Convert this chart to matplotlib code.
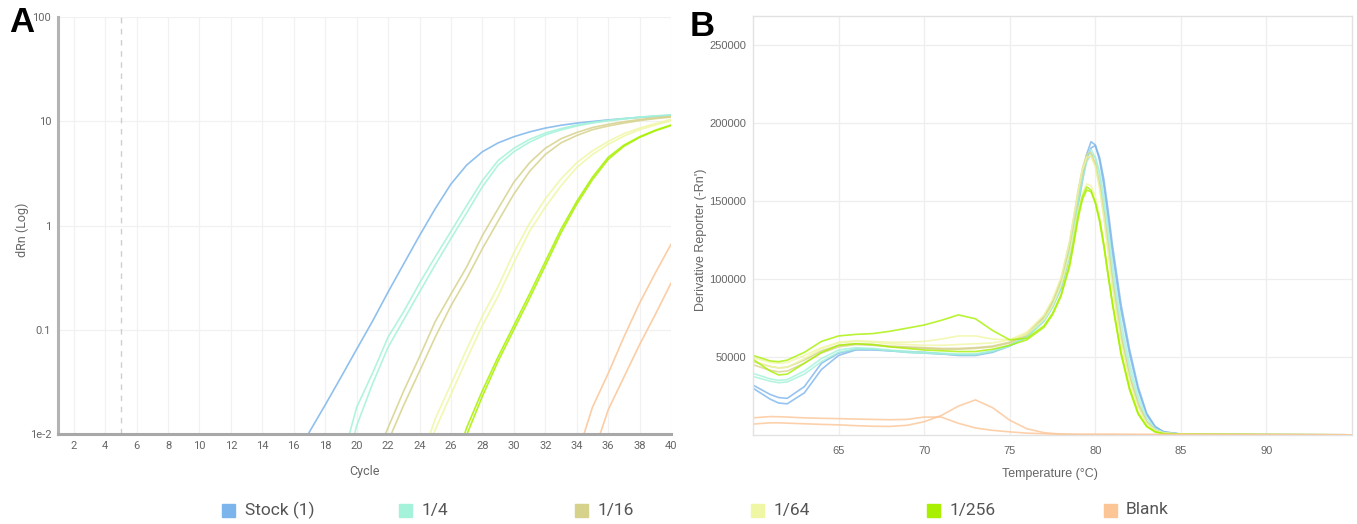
import numpy as np
import matplotlib
matplotlib.use("Agg")
import matplotlib.pyplot as plt
from matplotlib.patches import Rectangle

# ---------------- data ----------------
series_names = ["Stock (1)", "1/4", "1/16", "1/64", "1/256", "Blank"]
series_colors = ["#7cb5ec", "#a4f2da", "#d6d28c", "#f0f7a4", "#a8f000", "#fcc596"]

# Amplification plot: (first cycle, dRn per cycle up to cycle 40)
amp_stock = (16, [0.0055, 0.0105, 0.019, 0.035, 0.065, 0.12, 0.23, 0.43, 0.8, 1.45,
                  2.5, 3.8, 5.1, 6.2, 7.1, 7.9, 8.6, 9.15, 9.6, 9.95, 10.3, 10.6,
                  10.9, 11.15, 11.4])
amp_1_4_a = (19, [0.005, 0.018, 0.038, 0.085, 0.15, 0.28, 0.5, 0.88, 1.55, 2.7, 4.2,
                  5.5, 6.7, 7.7, 8.5, 9.2, 9.75, 10.2, 10.6, 10.95, 11.25, 11.5])
amp_1_4_b = (19, [0.003, 0.012, 0.03, 0.068, 0.125, 0.23, 0.42, 0.75, 1.32, 2.35,
                  3.8, 5.1, 6.3, 7.4, 8.25, 9.0, 9.6, 10.1, 10.5, 10.9, 11.2, 11.45])
amp_1_16_a = (21, [0.005, 0.0115, 0.026, 0.055, 0.12, 0.22, 0.4, 0.8, 1.45, 2.6, 4.0,
                   5.5, 6.8, 7.8, 8.7, 9.35, 9.9, 10.4, 10.8, 11.1])
amp_1_16_b = (21, [0.003, 0.0085, 0.019, 0.04, 0.085, 0.17, 0.31, 0.6, 1.1, 2.0, 3.3,
                   4.8, 6.2, 7.3, 8.3, 9.0, 9.6, 10.15, 10.6, 10.95])
amp_1_64_a = (24, [0.005, 0.014, 0.03, 0.065, 0.135, 0.26, 0.55, 1.05, 1.8, 2.8, 4.0,
                   5.2, 6.4, 7.6, 8.6, 9.5, 10.4])
amp_1_64_b = (24, [0.004, 0.011, 0.024, 0.052, 0.11, 0.21, 0.44, 0.88, 1.5, 2.4, 3.6,
                   4.8, 6.0, 7.2, 8.3, 9.2, 10.1])
amp_1_256_a = (26, [0.004, 0.0115, 0.026, 0.055, 0.11, 0.22, 0.45, 0.92, 1.7, 2.9,
                    4.5, 5.9, 7.1, 8.2, 9.2])
amp_1_256_b = (26, [0.0035, 0.0098, 0.023, 0.05, 0.1, 0.2, 0.41, 0.85, 1.6, 2.75,
                    4.3, 5.75, 7.0, 8.1, 9.1])
amp_blank_a = (34, [0.006, 0.018, 0.038, 0.085, 0.18, 0.35, 0.66])
amp_blank_b = (35, [0.006, 0.017, 0.035, 0.072, 0.14, 0.28])

amp_groups = [[amp_stock], [amp_1_4_a, amp_1_4_b], [amp_1_16_a, amp_1_16_b],
              [amp_1_64_a, amp_1_64_b], [amp_1_256_a, amp_1_256_b],
              [amp_blank_a, amp_blank_b]]
threshold_cycle = 5

# Melt curve: temperature grid and derivative reporter values (thousands)
melt_temp = [60, 61, 61.5, 62, 63, 64, 65, 66, 67, 68, 69, 70, 71, 72, 73, 74, 75, 76,
             77, 77.5, 78, 78.5, 78.75, 79, 79.25, 79.5, 79.75, 80, 80.25, 80.5, 80.75,
             81, 81.5, 82, 82.5, 83, 83.5, 84, 85, 87, 90, 95]

melt_stock_a = [32, 26, 24, 23.5, 31, 46, 52.5, 55, 55, 54, 53.5, 53, 52, 51.5, 51.5,
                53.5, 57.5, 63, 74, 83, 96, 118, 133, 150, 166, 180, 188, 186, 176, 160,
                139, 117, 80, 52, 29, 13, 5, 2, 0.6, 0.3, 0.2, 0.1]
melt_stock_b = [30, 23, 20.5, 20, 27, 42, 51, 54.5, 54.5, 54, 53, 52.5, 52, 51, 51, 53,
                57, 63, 73, 82, 94, 115, 130, 147, 163, 177, 184, 185.5, 178, 164, 144,
                122, 84, 55, 31, 14, 5.5, 2, 0.6, 0.3, 0.2, 0.1]
melt_1_4_a = [39.5, 36, 35, 35.5, 41, 49, 54.5, 56, 55.5, 54.5, 53.5, 53, 52.5, 52, 52,
              54, 57.5, 63, 74, 83, 97, 120, 136, 153, 168, 179, 183, 178, 166, 148, 126,
              104, 68, 42, 22, 9, 3.5, 1.5, 0.5, 0.3, 0.2, 0.1]
melt_1_4_b = [37.5, 34.5, 33.5, 34, 39, 47, 53, 55, 55, 54, 53, 52.5, 52, 51.5, 51.5,
              53.5, 57, 62.5, 73, 82, 95, 117, 132, 149, 164, 175, 180, 178, 169, 153,
              132, 110, 73, 46, 25, 11, 4, 1.5, 0.5, 0.3, 0.2, 0.1]
melt_1_16_a = [47, 44, 43, 43.5, 48, 54, 57.5, 58.5, 58, 57, 56.5, 56, 55.5, 55.5, 56,
               57, 59.5, 65, 76, 86, 100, 124, 140, 157, 171, 180, 181, 174, 160, 141,
               119, 97, 62, 37, 19, 8, 3, 1.2, 0.5, 0.3, 0.2, 0.1]
melt_1_16_b = [45, 41.5, 40.5, 41, 46, 52.5, 56.5, 58, 57.5, 56.5, 56, 55.5, 55, 55,
               55.5, 56.5, 59, 64, 75, 85, 99, 122, 138, 155, 168, 177, 179, 173, 160,
               142, 121, 99, 64, 38, 20, 8.5, 3, 1.2, 0.5, 0.3, 0.2, 0.1]
melt_1_64_a = [49.5, 46.5, 46, 46.5, 51, 56, 59, 60, 59.5, 58.5, 58, 57.5, 57.5, 58,
               58.5, 59, 61, 66, 77, 87, 101, 124, 140, 156, 170, 178, 179, 172, 158,
               139, 117, 95, 60, 35, 18, 7.5, 3, 1.2, 0.5, 0.3, 0.2, 0.1]
melt_1_64_b = [47.5, 44, 43, 43.5, 49, 55.5, 59.5, 60.5, 60, 59.5, 59.5, 60, 61.5, 63.5,
               63.5, 61.5, 61, 64.5, 74, 83, 96, 116, 130, 144, 155, 161, 160, 153, 140,
               123, 104, 85, 54, 31, 15, 6, 2.5, 1, 0.5, 0.3, 0.2, 0.1]
melt_1_256_a = [51, 47.5, 47, 48, 53, 60, 63.5, 64.5, 65, 66.5, 68.5, 70.5, 73.5, 77,
                74.5, 67, 61, 62, 70, 78, 90, 110, 125, 141, 153, 159, 157, 149, 138,
                122, 103, 85, 53, 30, 14, 5.5, 2, 0.8, 0.4, 0.3, 0.2, 0.1]
melt_1_256_b = [48.5, 41, 38.5, 39, 46, 53, 57.5, 58.5, 58, 56.5, 55.5, 54.5, 54, 53.5,
                53.5, 55, 57.5, 61, 69, 77, 89, 108, 123, 139, 151, 157, 156, 149, 137,
                121, 102, 84, 52, 29, 13.5, 5.5, 2, 0.8, 0.4, 0.3, 0.2, 0.1]
melt_blank_a = [11, 11.8, 11.7, 11.5, 11, 10.7, 10.5, 10.2, 10, 9.8, 10, 11.5, 11.5,
                7.5, 4.5, 3, 2, 1.2, 0.8, 0.6, 0.5, 0.45, 0.4, 0.4, 0.4, 0.4, 0.4, 0.4,
                0.4, 0.4, 0.4, 0.4, 0.35, 0.35, 0.3, 0.3, 0.3, 0.3, 0.3, 0.2, 0.2, 0.1]
melt_blank_b = [7, 7.8, 7.8, 7.6, 7.2, 6.8, 6.5, 6, 5.6, 5.5, 6.2, 8.5, 12.5, 18.5, 22.5,
                17.5, 9.5, 4, 1.5, 1, 0.6, 0.5, 0.45, 0.4, 0.4, 0.4, 0.4, 0.4, 0.4, 0.4,
                0.4, 0.4, 0.35, 0.35, 0.3, 0.3, 0.3, 0.3, 0.3, 0.2, 0.2, 0.1]

melt_groups = [[melt_stock_a, melt_stock_b], [melt_1_4_a, melt_1_4_b],
               [melt_1_16_a, melt_1_16_b], [melt_1_64_a, melt_1_64_b],
               [melt_1_256_a, melt_1_256_b], [melt_blank_a, melt_blank_b]]

# ---------------- figure ----------------
W, H = 1357, 524
fig = plt.figure(figsize=(W / 100, H / 100), dpi=100)
FONT = ["Roboto", "DejaVu Sans"]
NARROW = ["Liberation Sans Narrow", "Liberation Sans", "DejaVu Sans"]
label_grey = "#666666"


def fx(px):
    return px / W


def fy(py):
    return 1 - py / H


# ---- Panel A: amplification plot ----
axA = fig.add_axes([fx(58), fy(434), fx(671 - 58), (434 - 17) / H])
axA.set_yscale("log")
axA.set_xlim(1, 40)
axA.set_ylim(0.01, 100)
axA.set_xticks(range(2, 41, 2))
axA.set_yticks([0.01, 0.1, 1, 10, 100])
axA.set_yticklabels(["1e-2", "0.1", "1", "10", "100"])
axA.yaxis.set_minor_locator(matplotlib.ticker.NullLocator())
axA.grid(True, which="major", color="#f1f1f1", lw=0.9)
axA.set_axisbelow(True)
for s in ("top", "right"):
    axA.spines[s].set_visible(False)
axA.spines["left"].set_color("#b3b3b3")
axA.spines["left"].set_linewidth(2.2)
axA.spines["bottom"].set_color("#a8a8a8")
axA.spines["bottom"].set_linewidth(2.2)
axA.tick_params(length=0, labelsize=8, labelcolor=label_grey, pad=5)
for lab in axA.get_xticklabels() + axA.get_yticklabels():
    lab.set_family(FONT)
axA.axvline(threshold_cycle, color="#cfcfcf", lw=1.0, ls=(0, (4, 4)))

for color, group in zip(series_colors, amp_groups):
    for start, vals in group:
        cyc = np.arange(start, start + len(vals))
        axA.plot(cyc, vals, color=color, lw=1.2, alpha=0.85,
                 solid_capstyle="round", solid_joinstyle="round")

fig.text(fx(365), fy(471), "Cycle", ha="center", va="center", fontsize=9,
         color=label_grey, family=FONT)
fig.text(fx(22), fy(230), "dRn (Log)", ha="center", va="center", fontsize=9,
         color=label_grey, family=FONT, rotation=90)
fig.text(fx(9), fy(23), "A", ha="left", va="center", fontsize=25, weight="bold",
         family=["Liberation Sans", "DejaVu Sans"])

# ---- Panel B: melt curve ----
axB = fig.add_axes([fx(753), fy(435), fx(1352 - 753), (435 - 16) / H])
axB.set_xlim(60, 95)
axB.set_ylim(0, 268600)
axB.set_xticks([65, 70, 75, 80, 85, 90])
axB.set_yticks([50000, 100000, 150000, 200000, 250000])
axB.set_yticklabels([str(v) for v in [50000, 100000, 150000, 200000, 250000]])
axB.grid(True, color="#eeeeee", lw=0.9)
axB.set_axisbelow(True)
for s in axB.spines.values():
    s.set_color("#e2e2e2")
    s.set_linewidth(1.0)
axB.tick_params(length=0, labelsize=8, labelcolor=label_grey, pad=5)
axB.tick_params(axis="x", pad=8)
for lab in axB.get_xticklabels() + axB.get_yticklabels():
    lab.set_family(NARROW)

temps = np.array(melt_temp)
for color, group in zip(series_colors, melt_groups):
    for vals in group:
        axB.plot(temps, np.array(vals) * 1000, color=color, lw=1.2, alpha=0.8,
                 solid_joinstyle="round")

fig.text(fx(1050), fy(474), "Temperature (\u00b0C)", ha="center", va="center",
         fontsize=9, color=label_grey, family=NARROW)
fig.text(fx(701), fy(240), "Derivative Reporter (-Rn')", ha="center", va="center",
         fontsize=9, color=label_grey, family=NARROW, rotation=90)
fig.text(fx(690), fy(27), "B", ha="left", va="center", fontsize=25, weight="bold",
         family=["Liberation Sans", "DejaVu Sans"])

# ---- shared legend ----
legend_y = 510
for i, (name, color) in enumerate(zip(series_names, series_colors)):
    cx = 229 + 176.2 * i
    fig.patches.append(Rectangle((fx(cx - 6.5), fy(legend_y + 6.5)), fx(13), 13 / H,
                                 transform=fig.transFigure, color=color,
                                 figure=fig))
    fig.text(fx(cx + 16), fy(legend_y), name, ha="left", va="center", fontsize=12.5,
             color="#555555", family=FONT)

fig.savefig("out.png", dpi=100)
